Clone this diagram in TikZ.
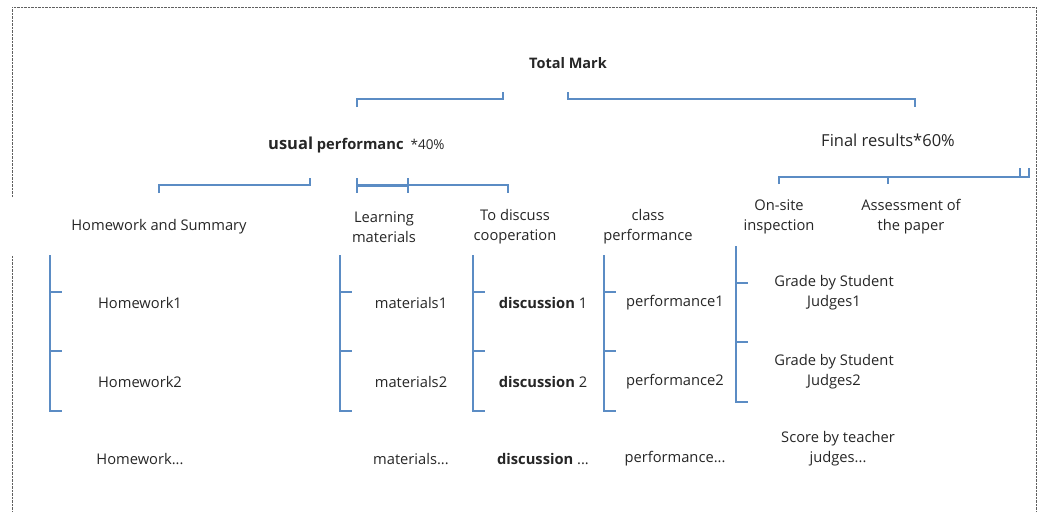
\documentclass[tikz,border=0pt]{standalone}
\usepackage{fontspec}
\setmainfont{Open Sans}
\definecolor{brblue}{HTML}{5B8CC4}
\definecolor{txt}{HTML}{262626}
\definecolor{dotgrey}{HTML}{606060}
\tikzset{
  br/.style={draw=brblue, line width=2pt},
  brthick/.style={draw=brblue, line width=3pt},
  frame/.style={draw=dotgrey, line width=0.9pt, dash pattern=on 0.8pt off 0.6pt},
  lbl/.style={text=txt, font=\fontsize{14.7}{20}\selectfont, align=center, inner sep=0pt},
  bl/.style={lbl, font=\fontsize{14.5}{20}\selectfont\bfseries},
}
\begin{document}
\begin{tikzpicture}[x=1pt,y=-1pt]
\useasboundingbox (0,0) rectangle (1040,511);
% frame
\coordinate (f1) at (12,197); \coordinate (f2) at (12,7); \coordinate (f3) at (1036,7); \coordinate (f4) at (1036,511);
\coordinate (f5) at (12,256); \coordinate (f6) at (12,511);
\draw[frame] (f1) -- (f2) -- (f3) -- (f4);
\draw[frame] (f5) -- (f6);

% labels
\node[bl] (total) at (568,63) {Total Mark};
\node[lbl, anchor=west] (usual) at (268,145) {{\fontsize{16.5}{20}\selectfont\bfseries usual} {\bfseries performanc}\hspace{7pt}{\fontsize{13.5}{20}\selectfont *40\%}};
\node[lbl, font=\fontsize{16.5}{20}\selectfont] (final) at (888,140) {Final results*60\%};
\node[lbl] (hw) at (159,227) {Homework and Summary};
\node[lbl] (lm) at (384,227) {Learning\\materials};
\node[lbl] (dc) at (515,227) {To discuss\\cooperation};
\node[lbl] (cp) at (648,227) {class\\performance};
\node[lbl] (os) at (779,217) {On-site\\inspection};
\node[lbl] (ap) at (911,217) {Assessment of\\the paper};

\node[lbl] (hw1) at (140,303) {Homework1};
\node[lbl] (hw2) at (140,382) {Homework2};
\node[lbl] (hw3) at (140,459) {Homework...};
\node[lbl] (m1) at (411,303) {materials1};
\node[lbl] (m2) at (411,382) {materials2};
\node[lbl] (m3) at (411,459) {materials...};
\node[lbl] (d1) at (543,303) {\bfseries discussion\normalfont\ 1};
\node[lbl] (d2) at (543,382) {\bfseries discussion\normalfont\ 2};
\node[lbl] (d3) at (543,459) {\bfseries discussion\normalfont\ ...};
\node[lbl] (p1) at (675,303) {performance1};
\node[lbl] (p2) at (675,382) {performance2};
\node[lbl] (p3) at (675,459) {performance...};
\node[lbl] (g1) at (834,293) {Grade by Student\\Judges1};
\node[lbl] (g2) at (834,372) {Grade by Student\\Judges2};
\node[lbl] (g3) at (838,449) {Score by teacher\\judges...};

% top brackets
\coordinate (a1) at (357,107); \coordinate (a2) at (357,99); \coordinate (a3) at (503,99); \coordinate (a4) at (503,92);
\draw[br] (a1) -- (a2) -- (a3) -- (a4);
\coordinate (b1) at (568,92); \coordinate (b2) at (568,99); \coordinate (b3) at (915,99); \coordinate (b4) at (915,107);
\draw[br] (b1) -- (b2) -- (b3) -- (b4);
% usual performance children
\coordinate (c1) at (159,193); \coordinate (c2) at (159,185); \coordinate (c3) at (310,185); \coordinate (c4) at (310,178);
\draw[br] (c1) -- (c2) -- (c3) -- (c4);
\coordinate (e1) at (357,178); \coordinate (e2) at (357,193); \coordinate (e3) at (357,185); \coordinate (e4) at (408,185);
\coordinate (e5) at (408,178); \coordinate (e6) at (408,193); \coordinate (e7) at (508,185); \coordinate (e8) at (508,193);
\draw[br] (e1) -- (e2);
\draw[brthick] (e3) -- (e4);
\draw[br] (e5) -- (e6);
\draw[br] (e4) -- (e7) -- (e8);
% final results children
\coordinate (h1) at (779,184); \coordinate (h2) at (779,177); \coordinate (h3) at (1029,177); \coordinate (h4) at (1029,168);
\coordinate (h5) at (888,177); \coordinate (h6) at (888,184); \coordinate (h7) at (1020,177); \coordinate (h8) at (1020,168);
\draw[br] (h1) -- (h2) -- (h3) -- (h4);
\draw[br] (h5) -- (h6);
\draw[br] (h7) -- (h8);

% vertical brackets
\foreach \n/\x in {vh/50, vm/340, vd/473, vp/604}{
  \coordinate (\n t) at (\x,255);
  \coordinate (\n b) at (\x,411);
  \coordinate (\n be) at (\x+12,411);
  \coordinate (\n 1) at (\x,292); \coordinate (\n 1e) at (\x+12,292);
  \coordinate (\n 2) at (\x,351); \coordinate (\n 2e) at (\x+12,351);
  \draw[br] (\n t) -- (\n b) -- (\n be);
  \draw[br] (\n 1) -- (\n 1e);
  \draw[br] (\n 2) -- (\n 2e);
}
\coordinate (vgt) at (736,246); \coordinate (vgb) at (736,402); \coordinate (vgbe) at (748,402);
\coordinate (vg1) at (736,283); \coordinate (vg1e) at (748,283);
\coordinate (vg2) at (736,342); \coordinate (vg2e) at (748,342);
\draw[br] (vgt) -- (vgb) -- (vgbe);
\draw[br] (vg1) -- (vg1e);
\draw[br] (vg2) -- (vg2e);
\end{tikzpicture}
\end{document}
